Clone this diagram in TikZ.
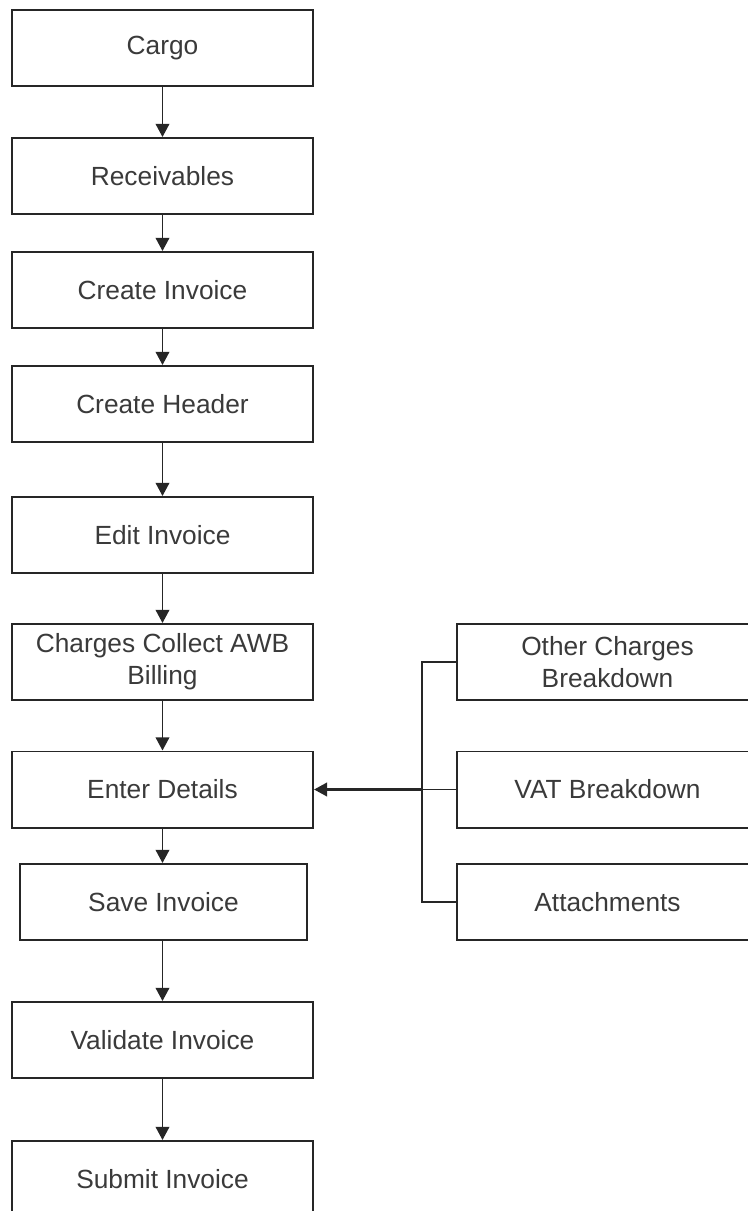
\documentclass[tikz,border=0pt]{standalone}
\usepackage{fontspec}
\setmainfont{Liberation Sans}
\usepackage{xcolor}
\usepackage{tikz}
\usetikzlibrary{positioning, arrows.meta, calc}

\definecolor{linegray}{HTML}{262626}
\definecolor{textgray}{HTML}{3A3A3A}

\begin{document}
\begin{tikzpicture}[
        x=0.025cm, y=-0.025cm,
        % Style for the process boxes
        stepbox/.style={
            draw=linegray,
            rectangle,
            line width=1.4pt,
            minimum width=7.525cm,
            minimum height=1.9cm,
            inner sep=0pt,
            align=center,
            text=textgray,
            font=\fontsize{18.7pt}{22.8pt}\selectfont
        },
        % Style for the flow arrows
        flow_arrow/.style={
            -{Triangle[length=0.33cm, width=0.34cm]},
            draw=linegray,
            line width=1.4pt
        },
        % Style for the branch lines
        branch_line/.style={
            draw=linegray,
            line width=1.2pt
        }
    ]

    \useasboundingbox (0,0) rectangle (748,1211);
    \clip (0,0) rectangle (748,1211);

    % ==========================================
    % MAIN FLOW
    % ==========================================
    \node[stepbox] (cargo)    at (162.5, 48)    {Cargo};
    \node[stepbox] (recv)     at (162.5, 176)   {Receivables};
    \node[stepbox] (createinv) at (162.5, 290)  {Create Invoice};
    \node[stepbox] (header)   at (162.5, 404)   {Create Header};
    \node[stepbox] (edit)     at (162.5, 535)   {Edit Invoice};
    \node[stepbox] (awb)      at (162.5, 662)   {Charges Collect AWB\\Billing};
    \node[stepbox] (enter)    at (162.5, 789.5) {Enter Details};
    \node[stepbox, minimum width=7.175cm] (save) at (163.5, 902) {Save Invoice};
    \node[stepbox] (validate) at (162.5, 1040)  {Validate Invoice};
    \node[stepbox] (submit)   at (162.5, 1179)  {Submit Invoice};

    \draw[flow_arrow] (cargo) -- (recv);
    \draw[flow_arrow] (recv) -- (createinv);
    \draw[flow_arrow] (createinv) -- (header);
    \draw[flow_arrow] (header) -- (edit);
    \draw[flow_arrow] (edit) -- (awb);
    \draw[flow_arrow] (awb) -- (enter);
    \draw[flow_arrow] (enter) -- (enter |- save.north);
    \draw[flow_arrow] (enter |- save.south) -- (validate);
    \draw[flow_arrow] (validate) -- (submit);

    % ==========================================
    % DETAIL BRANCHES
    % ==========================================
    \node[stepbox] (other)  at (607.5, 662)   {Other Charges\\Breakdown};
    \node[stepbox] (vat)    at (607.5, 789.5) {VAT Breakdown};
    \node[stepbox] (attach) at (607.5, 902)   {Attachments};

    \coordinate (bus) at (422, 789.5);

    \draw[branch_line] (other.west) -| (bus);
    \draw[branch_line] (attach.west) -| (bus);
    \draw[branch_line] (vat.west) -- (bus);
    \draw[flow_arrow, line width=1.8pt] (bus) -- (enter.east);

\end{tikzpicture}
\end{document}
